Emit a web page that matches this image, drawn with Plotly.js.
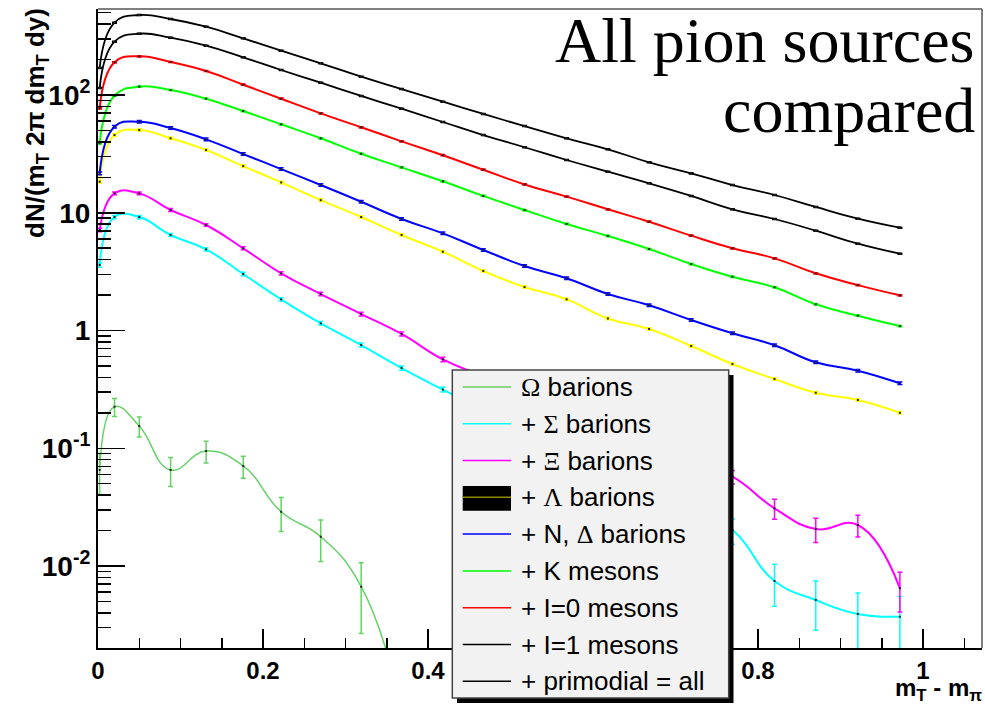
<!DOCTYPE html>
<html><head><meta charset="utf-8">
<script src="https://cdn.plot.ly/plotly-3.0.1.min.js"></script>
<style>html,body{margin:0;padding:0;background:#fff}#chart{width:985px;height:704px}</style>
</head><body><div id="chart"></div>
<script>
// ---- data ----
const mt = [0.002,0.02,0.05,0.088,0.131,0.176,0.222,0.27,0.319,0.368,0.418,0.467,0.517,0.568,0.618,0.668,0.719,0.769,0.82,0.87,0.921,0.972];
const allSources = [169.5,411,478,442,380,303,238,186,143,112.4,87.7,69.0,54.5,42.9,34.6,26.8,21.6,17.2,14.15,11.2,8.9,7.46];
const i1Mesons = [114.7,283.6,331.6,306.6,262.2,209,163.1,127.2,98.1,76.5,59.0,45.7,36.0,28.05,22.3,17.8,13.9,10.7,8.85,7.04,5.46,4.49];
const i0Mesons = [77.1,189.5,213.2,190.7,159.9,122.3,93.0,69.9,53.2,40.4,30.8,23.2,17.4,13.7,10.7,8.39,6.39,4.99,4.10,3.06,2.43,1.99];
const kMesons = [38.9,98.6,117.6,110.3,93.0,73.1,56.4,42.9,31.7,24.3,18.5,13.9,10.55,8.03,6.35,4.92,3.67,2.86,2.33,1.67,1.336,1.09];
const nDeltaBarions = [21.6,53.8,59.3,52.4,42.0,31.5,23.5,17.2,12.4,8.85,6.69,4.83,3.53,2.78,2.04,1.64,1.228,0.947,0.749,0.537,0.456,0.356];
const lambdaBarions = [18.35,45.7,50.4,42.9,34.1,24.9,18.1,12.8,9.2,6.47,4.67,3.20,2.34,1.84,1.264,1.03,0.739,0.519,0.387,0.296,0.257,0.200];
const xiBarions = [7.14,14.6,14.6,10.55,7.87,4.99,3.06,2.04,1.38,0.934,0.569,0.41,0.30,0.21,0.15,0.105,0.078,0.0573,0.0309,0.0206,0.0223,0.00647];
const xiErr = [0.25,0.4,0.4,0.3,0.2,0.15,0.1,0.07,0.05,0.035,0.025,0.02,0.016,0.013,0.011,0.009,0.008,0.0075,0.006,0.0048,0.0047,0.0024];
const sigmaBarions = [3.60,9.2,9.2,6.47,4.89,3.02,1.84,1.151,0.753,0.480,0.315,0.215,0.148,0.10,0.068,0.046,0.030,0.0202,0.00746,0.00514,0.00391,0.00371];
const sigmaErr = [0.15,0.3,0.3,0.2,0.15,0.1,0.06,0.04,0.03,0.02,0.015,0.012,0.01,0.008,0.007,0.006,0.005,0.0049,0.0029,0.0023,0.0020,0.0018];
const mtOmega = mt.slice(0,10);
const omegaBarions = [0.0654,0.2254,0.1545,0.0654,0.0948,0.0707,0.0289,0.01774,0.00667,0.0006];
const omegaErr = [0.025,0.039,0.03,0.018,0.02,0.015,0.0093,0.0068,0.004,0];

const xTickVals = [0,0.2,0.4,0.6,0.8,1];
const xTickText = ['0','0.2','0.4','0.6','0.8','1'];
const yTickVals = [0.01,0.1,1,10,100];
const yTickText = ['10<sup>-2</sup>','10<sup>-1</sup>','1','10','10<sup>2</sup>'];

const G = s => '<span style="font-family:Liberation Serif">'+s+'</span>';
const legendLabels = [G('\u03A9')+' barions','+ '+G('\u03A3')+' barions','+ '+G('\u039E')+' barions','+ '+G('\u039B')+' barions','+ N, '+G('\u0394')+' barions','+ K mesons','+ I=0 mesons','+ I=1 mesons','+ primodial = all'];
const legendColors = ['#66d166','#00ffff','#ff00ff','#8c8c00','#0000ff','#00ff00','#ff0000','#000000','#000000'];

// ---- layout helpers ----
const W=985,H=704,ML=98,MR=3,MT=9,MB=56;
const pw=W-ML-MR, ph=H-MT-MB;
const PX=x=>(x-ML)/pw, PY=y=>(H-MB-y)/ph;

function tr(x,y,color,width,err){
  return {x:x,y:y,type:'scatter',mode:'lines+markers',
    line:{shape:'spline',smoothing:1.3,color:color,width:width},
    marker:{size:2,color:'#222',symbol:'square'},
    error_y:Object.assign({color:color,thickness:1.5,width:2.5,visible:true},err),
    showlegend:false,hoverinfo:'skip'};
}
const data = [
  tr(mtOmega,omegaBarions,'#66d166',1.5,{type:'data',array:omegaErr}),
  tr(mt,sigmaBarions,'#00ffff',2,{type:'data',array:sigmaErr}),
  tr(mt,xiBarions,'#ff00ff',2,{type:'data',array:xiErr}),
  tr(mt,lambdaBarions,'#ffff00',2,{type:'percent',value:2.5}),
  tr(mt,nDeltaBarions,'#0000ff',2,{type:'percent',value:2.5}),
  tr(mt,kMesons,'#00ff00',2,{type:'percent',value:1.2}),
  tr(mt,i0Mesons,'#ff0000',2,{type:'percent',value:1.2}),
  tr(mt,i1Mesons,'#000000',1.8,{type:'percent',value:1}),
  tr(mt,allSources,'#000000',1.8,{type:'percent',value:1})
];

const shapes = [
  {type:'line',xref:'paper',yref:'paper',x0:0,x1:1,y0:1,y1:1,line:{color:'#555',width:1.5}},
  {type:'line',xref:'paper',yref:'paper',x0:1,x1:1,y0:0,y1:1,line:{color:'#555',width:1.5}},
  {type:'rect',xref:'paper',yref:'paper',x0:PX(457),x1:PX(733.5),y0:PY(703),y1:PY(375),fillcolor:'#000',line:{width:0}},
  {type:'rect',xref:'paper',yref:'paper',x0:PX(452.3),x1:PX(728.7),y0:PY(698),y1:PY(370),fillcolor:'#f2f2f2',line:{color:'#444',width:1.5}}
];
const annotations = [
  {xref:'paper',yref:'paper',x:PX(977),y:PY(40.6),xanchor:'right',yanchor:'middle',showarrow:false,text:'All pion sources',font:{family:'Liberation Serif',size:64,color:'#000'}},
  {xref:'paper',yref:'paper',x:PX(977),y:PY(110.6),xanchor:'right',yanchor:'middle',showarrow:false,text:'compared',font:{family:'Liberation Serif',size:64,color:'#000'}},
  {xref:'paper',yref:'paper',x:PX(36),y:PY(123),xanchor:'center',yanchor:'middle',showarrow:false,textangle:-90,text:'dN/(m<sub>T</sub> 2\u03C0 dm<sub>T</sub> dy)',font:{family:'Liberation Sans',size:26,weight:'bold',color:'#000'}},
  {xref:'paper',yref:'paper',x:PX(984),y:PY(689),xanchor:'right',yanchor:'middle',showarrow:false,text:'m<sub>T</sub> - m<sub>\u03C0</sub>',font:{family:'Liberation Sans',size:24,weight:'bold',color:'#000'}}
];
for(let k=0;k<legendLabels.length;k++){
  const ry = 386.9 + 36.8*k;
  if(k===3){
    shapes.push({type:'rect',xref:'paper',yref:'paper',x0:PX(462.7),x1:PX(511),y0:PY(510.7),y1:PY(486),fillcolor:'#000',line:{width:0}});
  }
  shapes.push({type:'line',xref:'paper',yref:'paper',x0:PX(462.7),x1:PX(511),y0:PY(ry),y1:PY(ry),line:{color:legendColors[k],width:1.5}});
  annotations.push({xref:'paper',yref:'paper',x:PX(519),y:PY(ry),xanchor:'left',yanchor:'middle',showarrow:false,text:legendLabels[k],font:{family:'Liberation Sans',size:26,color:'#000'}});
}

const tickFont = {family:'Liberation Sans',weight:'bold',color:'#000'};
const layout = {
  width:W,height:H,margin:{l:ML,r:MR,t:MT,b:MB},
  paper_bgcolor:'#fff',plot_bgcolor:'#fff',showlegend:false,
  xaxis:{range:[0,1.0715],tickmode:'array',tickvals:xTickVals,ticktext:xTickText,ticks:'inside',ticklen:19,tickwidth:1.5,tickcolor:'#000',
    minor:{tick0:0,dtick:0.05,ticks:'inside',ticklen:10,tickwidth:1.5,tickcolor:'#000'},
    showline:true,linecolor:'#000',linewidth:2,showgrid:false,zeroline:false,tickfont:Object.assign({size:24},tickFont)},
  yaxis:{type:'log',range:[-2.6964,2.7304],tickmode:'array',tickvals:yTickVals,ticktext:yTickText,ticks:'inside',ticklen:27,tickwidth:1.5,tickcolor:'#000',
    minor:{dtick:'D1',ticks:'inside',ticklen:13,tickwidth:1.5,tickcolor:'#000'},
    showline:true,linecolor:'#000',linewidth:2,showgrid:false,zeroline:false,tickfont:Object.assign({size:28},tickFont)},
  shapes:shapes,annotations:annotations
};
Plotly.newPlot('chart',data,layout,{staticPlot:true,displayModeBar:false});
</script></body></html>
